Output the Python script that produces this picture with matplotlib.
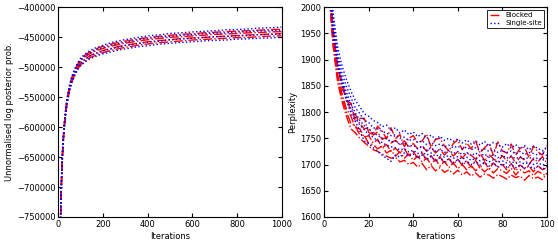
import numpy as np
import matplotlib
matplotlib.use('Agg')
import matplotlib.pyplot as plt

### Left panel: unnormalised log posterior, 4 runs per sampler
iters_long = [2, 5, 8, 10, 12, 15, 18, 20, 25, 30, 35, 40, 50, 60, 70, 80, 90, 100, 120, 140,
              160, 180, 200, 240, 280, 320, 360, 400, 450, 500, 550, 600, 650, 700, 750, 800,
              850, 900, 950, 1000]

logp_blocked = [
  [-945000, -856000, -786000, -750000, -716000, -676000, -646000, -631000, -602000, -582000,
   -565000, -552000, -532000, -518000, -508000, -500000, -493000, -487500, -480000, -475000,
   -471500, -468000, -465500, -461500, -458000, -455500, -453000, -451000, -449000, -447000,
   -445500, -444500, -443000, -442000, -441000, -440000, -439500, -438500, -437500, -437000],
  [-952000, -860000, -790000, -754000, -719000, -679000, -650000, -634000, -605000, -584000,
   -567000, -554500, -534000, -520500, -510000, -502000, -495500, -490000, -483000, -478000,
   -474500, -471500, -469000, -465000, -461500, -459000, -456500, -454500, -452500, -450500,
   -449500, -448000, -447000, -445500, -445000, -444000, -443000, -442500, -441500, -441000],
  [-958000, -864000, -794000, -758000, -722000, -682000, -652000, -637000, -607000, -587000,
   -570000, -557000, -537000, -523500, -513500, -505500, -499000, -493500, -486500, -481500,
   -478000, -475000, -472500, -468500, -465000, -462500, -460000, -458000, -456000, -454500,
   -452500, -451500, -450500, -449500, -448500, -447500, -446500, -446000, -445000, -444500],
  [-965000, -868000, -797000, -762000, -726000, -686000, -656000, -640000, -609000, -589000,
   -572500, -559500, -539500, -525500, -516000, -508000, -501500, -496500, -490000, -485000,
   -481500, -478500, -476000, -472000, -468500, -466000, -463500, -461500, -459500, -458000,
   -456500, -455000, -454000, -453000, -452000, -451000, -450500, -449500, -448500, -448000],
]

logp_single = [
  [-940000, -852000, -782000, -748000, -713000, -674000, -644000, -629000, -600000, -580000,
   -563000, -550000, -530000, -516000, -506000, -498000, -491000, -485000, -478000, -473000,
   -469000, -466500, -463500, -459000, -455500, -453000, -450500, -448000, -446500, -444000,
   -443000, -441500, -440500, -439500, -438000, -437500, -436500, -435000, -434500, -433500],
  [-955000, -858000, -788000, -752000, -717000, -678000, -648000, -632000, -603000, -583000,
   -566000, -553000, -533000, -519000, -509000, -500500, -494000, -488500, -481000, -476500,
   -472500, -469500, -467500, -463000, -459500, -457500, -454000, -452500, -450000, -449000,
   -447000, -446000, -444500, -443500, -443000, -441500, -441000, -440000, -439500, -438500],
  [-960000, -866000, -795000, -760000, -724000, -684000, -654000, -638000, -608000, -588000,
   -571000, -558000, -538000, -524000, -514000, -506000, -499500, -494000, -487500, -482000,
   -478500, -476000, -473000, -469500, -465500, -463000, -461000, -458500, -457000, -454500,
   -453500, -452000, -451000, -449500, -449000, -448000, -447500, -446000, -445500, -445000],
  [-970000, -872000, -800000, -765000, -728000, -688000, -658000, -642000, -611000, -591000,
   -574000, -561000, -541000, -527000, -517500, -509500, -503000, -498000, -491500, -486500,
   -483500, -480500, -478000, -474500, -471000, -468500, -466000, -464500, -462000, -460500,
   -459000, -458000, -456500, -455500, -455000, -453500, -453000, -452000, -451500, -450500],
]

### Right panel: perplexity, first 100 iterations, 5 runs per sampler
iters_short = list(range(2, 101, 2))

perp_blocked = [
  [2070, 1960, 1882, 1860, 1821, 1817, 1782, 1788, 1788, 1761, 1757, 1773, 1764, 1749, 1770,
   1749, 1757, 1734, 1750, 1755, 1742, 1745, 1758, 1733, 1748, 1750, 1735, 1726, 1740, 1747,
   1728, 1741, 1730, 1745, 1722, 1732, 1739, 1718, 1743, 1726, 1722, 1739, 1718, 1731, 1733,
   1713, 1735, 1724, 1718, 1736],
  [2055, 1952, 1890, 1845, 1828, 1800, 1795, 1778, 1768, 1770, 1756, 1762, 1748, 1752, 1741,
   1746, 1738, 1745, 1733, 1740, 1730, 1736, 1725, 1733, 1722, 1730, 1718, 1727, 1716, 1725,
   1712, 1722, 1718, 1710, 1721, 1708, 1719, 1711, 1705, 1717, 1707, 1716, 1703, 1714, 1709,
   1700, 1712, 1705, 1715, 1703],
  [2048, 1938, 1872, 1835, 1806, 1792, 1770, 1768, 1752, 1755, 1741, 1748, 1732, 1738, 1725,
   1731, 1722, 1730, 1716, 1725, 1712, 1722, 1708, 1717, 1705, 1715, 1702, 1711, 1700, 1710,
   1698, 1706, 1695, 1708, 1693, 1705, 1691, 1703, 1694, 1700, 1690, 1702, 1688, 1699, 1692,
   1697, 1686, 1698, 1690, 1694],
  [2040, 1930, 1866, 1826, 1800, 1778, 1774, 1756, 1755, 1740, 1738, 1730, 1735, 1722, 1727,
   1716, 1724, 1712, 1720, 1708, 1716, 1705, 1712, 1700, 1710, 1697, 1706, 1694, 1703, 1692,
   1700, 1690, 1698, 1688, 1695, 1686, 1694, 1684, 1692, 1688, 1683, 1693, 1680, 1690, 1684,
   1688, 1679, 1687, 1682, 1678],
  [2035, 1925, 1858, 1820, 1792, 1768, 1760, 1750, 1742, 1735, 1728, 1725, 1720, 1716, 1712,
   1714, 1705, 1708, 1700, 1704, 1695, 1702, 1690, 1698, 1688, 1694, 1685, 1690, 1682, 1689,
   1680, 1686, 1678, 1684, 1676, 1682, 1680, 1674, 1681, 1677, 1672, 1680, 1675, 1678, 1670,
   1679, 1673, 1676, 1671, 1684],
]

perp_single = [
  [2100, 1990, 1925, 1888, 1862, 1840, 1822, 1810, 1797, 1792, 1784, 1780, 1772, 1775, 1765,
   1770, 1760, 1766, 1757, 1762, 1753, 1759, 1750, 1756, 1748, 1754, 1746, 1750, 1744, 1749,
   1741, 1747, 1739, 1745, 1737, 1744, 1735, 1742, 1738, 1733, 1740, 1731, 1738, 1730, 1736,
   1728, 1735, 1731, 1726, 1733],
  [2090, 1975, 1912, 1874, 1848, 1828, 1808, 1797, 1784, 1780, 1770, 1768, 1763, 1760, 1755,
   1757, 1750, 1752, 1746, 1748, 1742, 1745, 1738, 1742, 1736, 1739, 1734, 1737, 1732, 1735,
   1730, 1733, 1728, 1732, 1726, 1730, 1725, 1729, 1723, 1727, 1722, 1726, 1720, 1725, 1719,
   1723, 1721, 1718, 1722, 1717],
  [2080, 1962, 1902, 1862, 1838, 1815, 1798, 1784, 1774, 1768, 1760, 1756, 1750, 1749, 1743,
   1745, 1738, 1741, 1734, 1737, 1730, 1734, 1727, 1732, 1725, 1729, 1723, 1727, 1721, 1725,
   1719, 1723, 1717, 1722, 1716, 1720, 1714, 1719, 1713, 1718, 1712, 1716, 1711, 1715, 1710,
   1714, 1709, 1713, 1708, 1712],
  [2070, 1955, 1895, 1855, 1830, 1806, 1790, 1775, 1766, 1757, 1752, 1745, 1742, 1737, 1734,
   1732, 1728, 1730, 1724, 1727, 1721, 1724, 1718, 1722, 1716, 1719, 1714, 1717, 1712, 1715,
   1710, 1714, 1708, 1712, 1707, 1710, 1705, 1709, 1704, 1707, 1703, 1706, 1702, 1705, 1701,
   1704, 1700, 1703, 1699, 1702],
  [2065, 1948, 1888, 1850, 1822, 1798, 1782, 1764, 1745, 1740, 1732, 1725, 1718, 1712, 1706,
   1718, 1714, 1722, 1716, 1720, 1712, 1718, 1710, 1715, 1707, 1713, 1705, 1711, 1704, 1709,
   1702, 1707, 1700, 1706, 1699, 1704, 1697, 1703, 1696, 1702, 1695, 1700, 1694, 1699, 1693,
   1698, 1692, 1697, 1691, 1696],
]

plt.rcParams['font.family'] = ['DejaVu Sans']
plt.rcParams['font.size'] = 6
plt.rcParams['xtick.direction'] = 'in'
plt.rcParams['ytick.direction'] = 'in'
plt.rcParams['xtick.top'] = True
plt.rcParams['ytick.right'] = True
plt.rcParams['xtick.major.size'] = 3
plt.rcParams['ytick.major.size'] = 3
plt.rcParams['axes.linewidth'] = 0.8

fig = plt.figure(figsize=(5.58, 2.43), dpi=100)
ax1 = fig.add_axes([0.1045, 0.107, 0.4, 0.864])
ax2 = fig.add_axes([0.581, 0.107, 0.399, 0.864])

for i, run in enumerate(logp_blocked):
  ax1.plot(iters_long, run, 'r-.', lw=1)
for i, run in enumerate(logp_single):
  ax1.plot(iters_long, run, 'b:', lw=1)

for i, run in enumerate(perp_blocked):
  ax2.plot(iters_short, run, 'r-.', lw=1, label='Blocked' if i == 0 else None)
for i, run in enumerate(perp_single):
  ax2.plot(iters_short, run, 'b:', lw=1, label='Single-site' if i == 0 else None)

ax1.set_xlim(0, 1000)
ax1.set_ylim(-750000, -400000)
ax1.set_xlabel('Iterations', labelpad=2)
ax1.set_ylabel('Unnormalised log posterior prob.', labelpad=2)

ax2.set_xlim(0, 100)
ax2.set_ylim(1600, 2000)
ax2.set_xlabel('Iterations', labelpad=2)
ax2.set_ylabel('Perplexity', labelpad=2)

for ax in (ax1, ax2):
  ax.tick_params(pad=2, labelsize=6)

leg = ax2.legend(loc='upper right', fontsize=5, handlelength=1.6, fancybox=False,
                 framealpha=1, edgecolor='black', borderpad=0.35, labelspacing=0.25,
                 handletextpad=0.6, borderaxespad=0.4)
leg.get_frame().set_linewidth(0.6)

fig.savefig('out.png', dpi=100)
